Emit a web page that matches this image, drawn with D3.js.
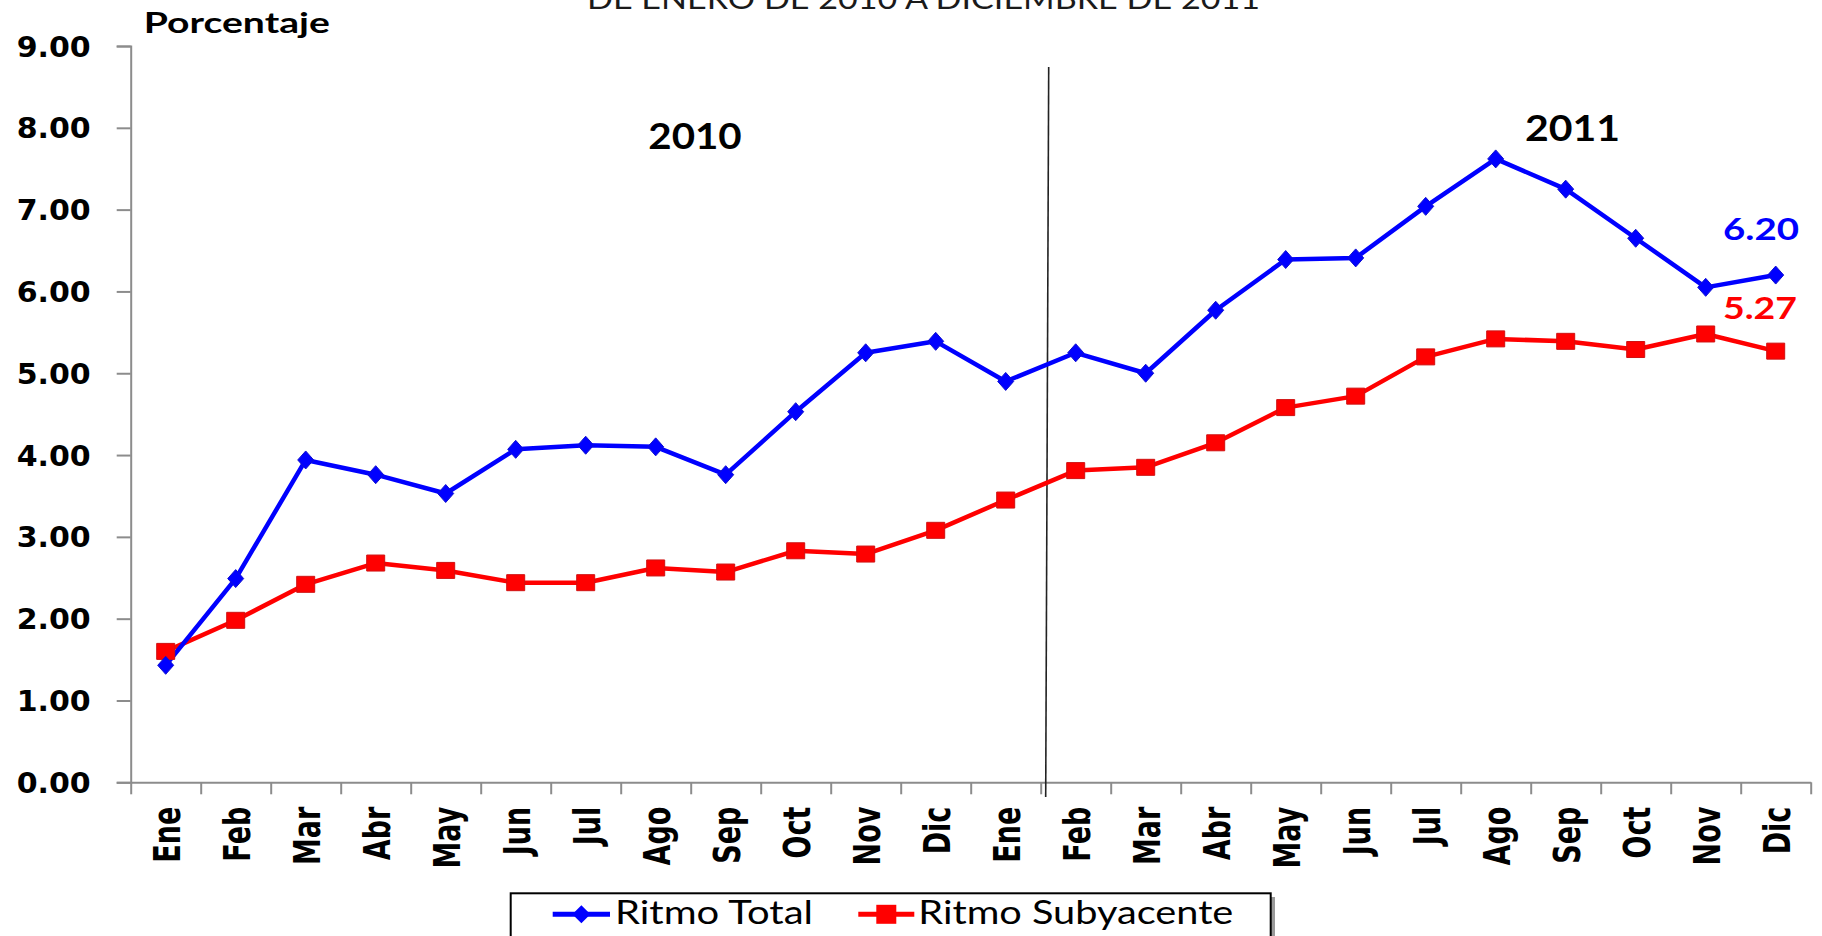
<!DOCTYPE html>
<html><head><meta charset="utf-8">
<script src="https://cdn.jsdelivr.net/npm/d3@7"></script>
<style>html,body{margin:0;padding:0;background:#fff;overflow:hidden}</style>
</head><body>
<svg id="c" width="1822" height="936" xmlns="http://www.w3.org/2000/svg"></svg>
<script>
// ---- data ----
const monthLabels = ["Ene","Feb","Mar","Abr","May","Jun","Jul","Ago","Sep","Oct","Nov","Dic",
                     "Ene","Feb","Mar","Abr","May","Jun","Jul","Ago","Sep","Oct","Nov","Dic"];
const ritmoTotal = [1.43,2.49,3.94,3.76,3.53,4.07,4.12,4.10,3.76,4.53,5.25,5.39,
                    4.90,5.25,5.00,5.77,6.39,6.41,7.04,7.62,7.25,6.65,6.05,6.20];
const ritmoSubyacente = [1.60,1.98,2.42,2.68,2.59,2.44,2.44,2.62,2.57,2.83,2.79,3.08,
                         3.45,3.81,3.85,4.15,4.58,4.72,5.20,5.42,5.39,5.29,5.48,5.27];
const yTicks = [0,1,2,3,4,5,6,7,8,9];
const seriesNames = ["Ritmo Total","Ritmo Subyacente"];
const yearLabels = ["2010","2011"];
const titleText = "DE ENERO DE 2010 A DICIEMBRE DE 2011";
const yAxisTitle = "Porcentaje";
const endLabels = ["6.20","5.27"];

// ---- layout ----
const svg = d3.select("#c");
const L = 130.7, R = 1810.7, T = 46, B = 782.3;
const BLUE = "#0000ff", RED = "#ff0000";

const x = d3.scaleBand().domain(d3.range(monthLabels.length)).range([L, R]).padding(0);
const xEdge = d3.scaleLinear().domain([0, monthLabels.length]).range([L, R]);
const y = d3.scaleLinear().domain([0, 9]).range([B, T]);
const cx = i => x(i) + x.bandwidth() / 2;

// title (cut at top)
svg.append("text").attr("x", 587).attr("y", 8.5)
  .attr("font-family", "Lato").attr("font-size", 28).attr("fill", "#1a1a1a")
  .attr("textLength", 673).attr("lengthAdjust", "spacingAndGlyphs")
  .text(titleText);

// y axis
const yAxis = svg.append("g").attr("transform", `translate(${L},0)`)
  .call(d3.axisLeft(y).tickValues(yTicks).tickFormat(d3.format(".2f")).tickSize(14).tickPadding(26));
yAxis.select(".domain").attr("stroke", "#8c8c8c").attr("stroke-width", 2);
yAxis.selectAll(".tick line").attr("stroke", "#8c8c8c").attr("stroke-width", 2);
yAxis.selectAll(".tick text")
  .attr("font-family", "DejaVu Sans").attr("font-weight", "bold").attr("font-size", 28)
  .attr("fill", "#000").attr("dy", "0.36em")
  .attr("textLength", 74).attr("lengthAdjust", "spacingAndGlyphs");

// x axis (ticks at category boundaries)
const xAxis = svg.append("g").attr("transform", `translate(0,${B})`)
  .call(d3.axisBottom(xEdge).tickValues(d3.range(monthLabels.length + 1)).tickFormat("").tickSize(12).tickSizeOuter(0));
xAxis.select(".domain").attr("stroke", "#8c8c8c").attr("stroke-width", 2);
xAxis.selectAll(".tick line").attr("stroke", "#8c8c8c").attr("stroke-width", 2);

// x labels rotated
svg.append("g").selectAll("text").data(monthLabels).join("text")
  .attr("transform", (d, i) => `translate(${cx(i) + 1},806.7) scale(1.35,1) rotate(-90)`)
  .attr("text-anchor", "end").attr("dy", "0.36em")
  .attr("font-family", "DejaVu Sans").attr("font-weight", "bold").attr("font-size", 27)
  .attr("fill", "#000")
  .text(d => d);

// y axis title
svg.append("text").attr("x", 143.8).attr("y", 33.3)
  .attr("font-family", "Lato").attr("font-weight", "bold").attr("font-size", 28).attr("fill", "#000")
  .attr("textLength", 186).attr("lengthAdjust", "spacingAndGlyphs")
  .text(yAxisTitle);

// divider between years
const xd = xEdge(13);
svg.append("line").attr("x1", xd + 8).attr("y1", 67).attr("x2", xd + 5).attr("y2", 797)
  .attr("stroke", "#222").attr("stroke-width", 1.6);

// year labels
svg.append("text").attr("x", 648.3).attr("y", 149.3)
  .attr("font-family", "Lato").attr("font-weight", "bold").attr("font-size", 36).attr("fill", "#000")
  .attr("textLength", 93.4).attr("lengthAdjust", "spacingAndGlyphs").text(yearLabels[0]);
svg.append("text").attr("x", 1525).attr("y", 140.7)
  .attr("font-family", "Lato").attr("font-weight", "bold").attr("font-size", 36).attr("fill", "#000")
  .attr("textLength", 95).attr("lengthAdjust", "spacingAndGlyphs").text(yearLabels[1]);

// lines
const line = d3.line().x((d, i) => cx(i)).y(d => y(d));
svg.append("path").datum(ritmoSubyacente).attr("d", line)
  .attr("fill", "none").attr("stroke", RED).attr("stroke-width", 4.5).attr("stroke-linejoin", "round");
svg.append("path").datum(ritmoTotal).attr("d", line)
  .attr("fill", "none").attr("stroke", BLUE).attr("stroke-width", 4.5).attr("stroke-linejoin", "round");

const diamond = (w, h) => `M0,${-h/2}L${w/2},0L0,${h/2}L${-w/2},0Z`;
const square = (w, h) => `M${-w/2},${-h/2}H${w/2}V${h/2}H${-w/2}Z`;

svg.append("g").selectAll("path").data(ritmoSubyacente).join("path")
  .attr("transform", (d, i) => `translate(${cx(i)},${y(d)})`)
  .attr("d", square(18, 16)).attr("fill", RED).attr("stroke", "#d01010").attr("stroke-width", 1);
svg.append("g").selectAll("path").data(ritmoTotal).join("path")
  .attr("transform", (d, i) => `translate(${cx(i)},${y(d)})`)
  .attr("d", diamond(16, 18)).attr("fill", BLUE).attr("stroke", "#1010d0").attr("stroke-width", 1);

// end value labels
svg.append("text").attr("x", 1723).attr("y", 239.5)
  .attr("font-family", "Lato").attr("font-weight", "bold").attr("font-size", 30).attr("fill", BLUE)
  .attr("textLength", 76).attr("lengthAdjust", "spacingAndGlyphs").text(endLabels[0]);
svg.append("text").attr("x", 1723).attr("y", 318.5)
  .attr("font-family", "Lato").attr("font-weight", "bold").attr("font-size", 30).attr("fill", RED)
  .attr("textLength", 74).attr("lengthAdjust", "spacingAndGlyphs").text(endLabels[1]);

// legend
const lg = svg.append("g");
lg.append("rect").attr("x", 515).attr("y", 897).attr("width", 760).attr("height", 60).attr("fill", "#9a9a9a");
lg.append("rect").attr("x", 510.7).attr("y", 893.3).attr("width", 760).attr("height", 60)
  .attr("fill", "#fff").attr("stroke", "#000").attr("stroke-width", 2);
const legendItems = [
  {name: seriesNames[0], color: BLUE, x0: 552.7, x1: 610, tx: 615, tw: 198, shape: diamond(18, 18)},
  {name: seriesNames[1], color: RED, x0: 858.3, x1: 914.3, tx: 918.3, tw: 315, shape: square(20, 19)}
];
legendItems.forEach(it => {
  lg.append("line").attr("x1", it.x0).attr("x2", it.x1).attr("y1", 914.3).attr("y2", 914.3)
    .attr("stroke", it.color).attr("stroke-width", 5);
  lg.append("path").attr("transform", `translate(${(it.x0 + it.x1) / 2},914.3)`)
    .attr("d", it.shape).attr("fill", it.color);
  lg.append("text").attr("x", it.tx).attr("y", 924.3)
    .attr("font-family", "Lato").attr("font-size", 33).attr("fill", "#000")
    .attr("textLength", it.tw).attr("lengthAdjust", "spacingAndGlyphs").text(it.name);
});
</script>
</body></html>
